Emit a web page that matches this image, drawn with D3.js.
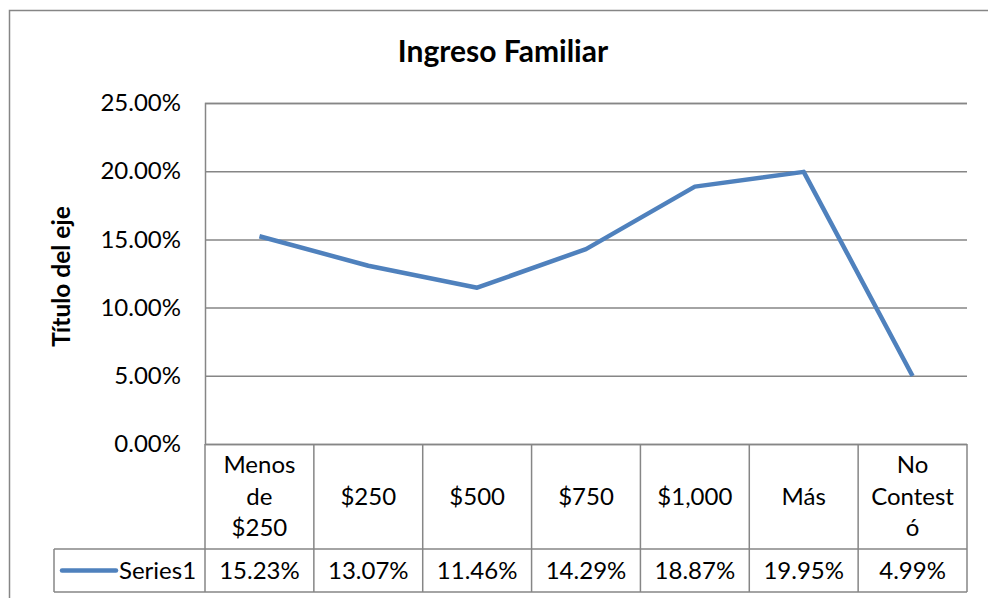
<!DOCTYPE html>
<html>
<head>
<meta charset="utf-8">
<script src="https://cdn.jsdelivr.net/npm/d3@7"></script>
<style>
    body { margin: 0; background: #fff; }
    svg { font-family: Lato, Carlito, Calibri, sans-serif; }
</style>
</head>
<body>
<svg id="chart"></svg>
<script>
// chart data
const categories = ["Menos de $250", "$250", "$500", "$750", "$1,000", "Más", "No Contestó"];
const categoryLines = [["Menos", "de", "$250"], ["$250"], ["$500"], ["$750"], ["$1,000"], ["Más"], ["No", "Contest", "ó"]];
const values = [0.1523, 0.1307, 0.1146, 0.1429, 0.1887, 0.1995, 0.0499];
const yTicks = [0, 0.05, 0.10, 0.15, 0.20, 0.25];
const seriesName = "Series1";

const width = 988, height = 598;
const margin = { top: 103, bottom: 154, left: 205, right: 21 };
const plotW = width - margin.left - margin.right;
const plotH = height - margin.top - margin.bottom;
const gridColor = "#868686";
const lineColor = "#4F81BD";
const fontSize = 24;

const svg = d3.select("#chart")
    .attr("width", width)
    .attr("height", height);

// chart frame
svg.append("rect")
    .attr("x", 9.5).attr("y", 10.5)
    .attr("width", 990).attr("height", 600)
    .attr("fill", "none")
    .attr("stroke", gridColor)
    .attr("stroke-width", 1.5);

svg.append("text")
    .attr("x", 503).attr("y", 62)
    .attr("text-anchor", "middle")
    .attr("font-size", 30).attr("font-weight", "bold")
    .text("Ingreso Familiar");

const chart = svg.append("g")
    .attr("transform", `translate(${margin.left},${margin.top})`);

const xScale = d3.scaleBand().domain(categories).range([0, plotW]);
const yScale = d3.scaleLinear().domain([0, 0.25]).range([plotH, 0]);

// gridlines + y axis
const yAxis = d3.axisLeft(yScale)
    .tickValues(yTicks)
    .tickSize(-plotW)
    .tickPadding(24)
    .tickFormat(d => d3.format(".2f")(d * 100) + "%");

const yg = chart.append("g").attr("class", "y axis").call(yAxis);
yg.select(".domain").attr("stroke", gridColor).attr("stroke-width", 1.5);
yg.selectAll(".tick line").attr("stroke", gridColor).attr("stroke-width", 1.5);
yg.selectAll(".tick text").attr("font-size", fontSize).attr("fill", "#000")
    .attr("font-family", "Lato, Carlito, Calibri, sans-serif");

chart.append("text")
    .attr("transform", "rotate(-90)")
    .attr("x", -plotH / 2 - 3).attr("y", -135)
    .attr("text-anchor", "middle")
    .attr("font-size", 24.5).attr("font-weight", "bold")
    .text("Título del eje");

// series line
const line = d3.line()
    .x((d, i) => xScale(categories[i]) + xScale.bandwidth() / 2)
    .y(d => yScale(d));

chart.append("path")
    .datum(values)
    .attr("d", line)
    .attr("fill", "none")
    .attr("stroke", lineColor)
    .attr("stroke-width", 4.5)
    .attr("stroke-linejoin", "round");

// data table
const catRowH = 105, valRowH = 43;
const legendX = 54 - margin.left;
const table = chart.append("g").attr("transform", `translate(0,${plotH})`);

table.append("line")
    .attr("x1", legendX).attr("x2", plotW).attr("y1", catRowH).attr("y2", catRowH)
    .attr("stroke", gridColor).attr("stroke-width", 1.5);
table.append("line")
    .attr("x1", legendX).attr("x2", plotW).attr("y1", catRowH + valRowH).attr("y2", catRowH + valRowH)
    .attr("stroke", gridColor).attr("stroke-width", 1.5);
table.append("line")
    .attr("x1", legendX).attr("x2", legendX).attr("y1", catRowH).attr("y2", catRowH + valRowH)
    .attr("stroke", gridColor).attr("stroke-width", 1.5);

const edges = categories.map(c => xScale(c)).concat([plotW]);
table.selectAll(".col-line")
    .data(edges)
    .join("line")
    .attr("class", "col-line")
    .attr("x1", d => d).attr("x2", d => d)
    .attr("y1", 0).attr("y2", catRowH + valRowH)
    .attr("stroke", gridColor).attr("stroke-width", 1.5);

const lineH = 31.5;
table.selectAll(".cat-label")
    .data(categories)
    .join("text")
    .attr("class", "cat-label")
    .attr("text-anchor", "middle")
    .attr("font-size", fontSize)
    .each(function (d, i) {
        const lines = categoryLines[i];
        const y0 = catRowH / 2 - (lines.length - 1) * lineH / 2 + 8;
        d3.select(this).selectAll("tspan")
            .data(lines)
            .join("tspan")
            .attr("x", xScale(d) + xScale.bandwidth() / 2)
            .attr("y", (t, j) => y0 + j * lineH)
            .text(t => t);
    });

table.selectAll(".val-label")
    .data(values)
    .join("text")
    .attr("class", "val-label")
    .attr("x", (d, i) => xScale(categories[i]) + xScale.bandwidth() / 2)
    .attr("y", catRowH + valRowH / 2 + 8)
    .attr("text-anchor", "middle")
    .attr("font-size", fontSize)
    .text(d => d3.format(".2f")(d * 100) + "%");

// legend key
table.append("line")
    .attr("x1", legendX + 8).attr("x2", legendX + 62)
    .attr("y1", catRowH + valRowH / 2).attr("y2", catRowH + valRowH / 2)
    .attr("stroke", lineColor).attr("stroke-width", 4.5)
    .attr("stroke-linecap", "round");
table.append("text")
    .attr("x", legendX + 65)
    .attr("y", catRowH + valRowH / 2 + 8)
    .attr("font-size", fontSize)
    .text(seriesName);
</script>
</body>
</html>
